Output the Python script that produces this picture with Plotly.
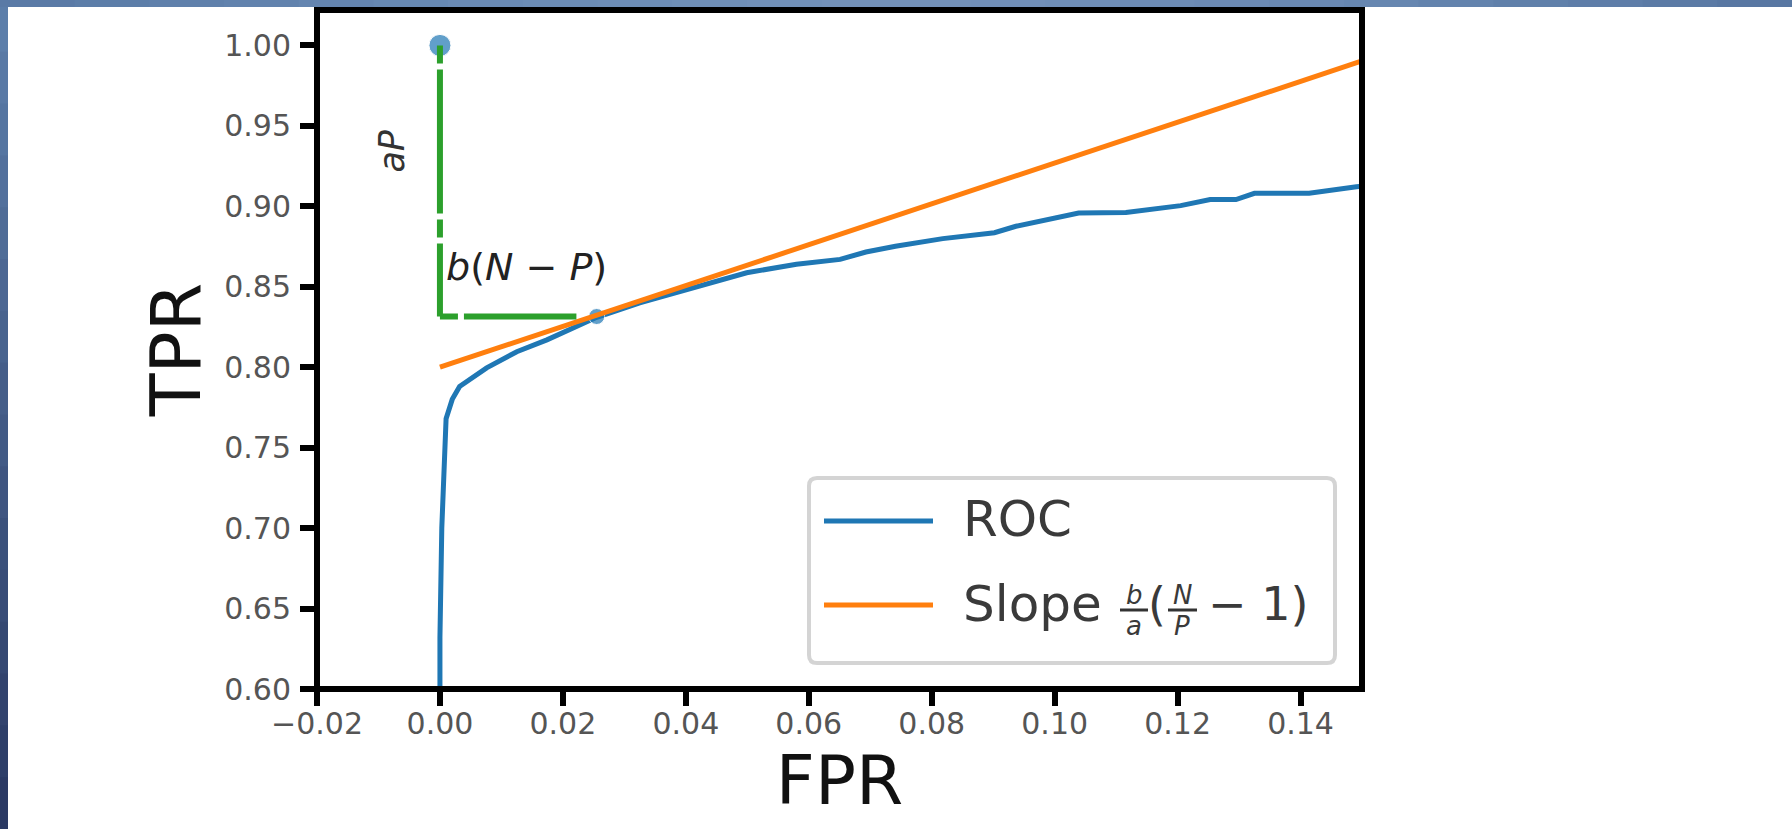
import plotly.graph_objects as go

# ---------------- data ----------------
roc_fpr = [0.0, 0.0, 0.0003, 0.0006, 0.0010, 0.0020, 0.0032, 0.0076, 0.0125, 0.0174,
           0.0218, 0.0255, 0.0325, 0.0390, 0.0445, 0.0499, 0.0580, 0.0651, 0.0693,
           0.0741, 0.0818, 0.0902, 0.0937, 0.0985, 0.1039, 0.1116, 0.1205, 0.1253,
           0.1295, 0.1325, 0.1414, 0.1491, 0.1550]
roc_tpr = [0.500, 0.632, 0.700, 0.735, 0.768, 0.780, 0.788, 0.7996, 0.8096, 0.817,
           0.825, 0.831, 0.840, 0.847, 0.8525, 0.8587, 0.864, 0.867, 0.8716,
           0.8752, 0.8799, 0.8836, 0.8876, 0.8917, 0.8958, 0.8962, 0.9004, 0.9042,
           0.9042, 0.9081, 0.9081, 0.9122, 0.9140]

slope_x = [0.0, 0.16]
slope_y = [0.800, 1.003]

point_x = [0.0, 0.0255]
point_y = [1.0, 0.8315]

vguide_x = [0.0, 0.0]
vguide_y = [1.0, 0.8315]
hguide_x = [0.0, 0.0222]
hguide_y = [0.8315, 0.8315]

x_ticks = [-0.02, 0.00, 0.02, 0.04, 0.06, 0.08, 0.10, 0.12, 0.14]
y_ticks = [0.60, 0.65, 0.70, 0.75, 0.80, 0.85, 0.90, 0.95, 1.00]

legend_names = ["ROC", "Slope"]

BLUE = "#1f77b4"
ORANGE = "#ff7f0e"
GREEN = "#2ca02c"
FONT = "DejaVu Sans"

W, H = 1792, 829
ML, MR, MT, MB = 317, 430, 10, 140
PW, PH = W - ML - MR, H - MT - MB


def px(xp):
    return (xp - ML) / PW


def py(yp):
    return (H - MB - yp) / PH


fig = go.Figure()
fig.add_trace(go.Scatter(x=roc_fpr, y=roc_tpr, mode="lines", name=legend_names[0],
                         line=dict(color=BLUE, width=5), showlegend=False))
fig.add_trace(go.Scatter(x=point_x, y=point_y, mode="markers", showlegend=False,
                         marker=dict(color=BLUE, size=[22, 16]), cliponaxis=False))
fig.add_trace(go.Scatter(x=slope_x, y=slope_y, mode="lines", name=legend_names[1],
                         line=dict(color=ORANGE, width=5), showlegend=False))
for gx, gy in ((vguide_x, vguide_y), (hguide_x, hguide_y)):
    fig.add_trace(go.Scatter(x=gx, y=gy, mode="lines", showlegend=False,
                             line=dict(color=GREEN, width=6, dash="18px,6px,144px,6px")))

shapes = []
# frame
shapes.append(dict(type="rect", xref="paper", yref="paper", x0=0, x1=1, y0=0, y1=1,
                   line=dict(color="black", width=6), layer="above"))


# gradient border of the screenshot (left and top strips)
def lerp(c1, c2, t):
    return "#%02x%02x%02x" % tuple(int(round(a + (b - a) * t)) for a, b in zip(c1, c2))


n = 16
for i in range(n):
    t = i / (n - 1)
    y0p = i * H / n
    y1p = (i + 1) * H / n + 2
    shapes.append(dict(type="rect", xref="paper", yref="paper", layer="above",
                       x0=px(0), x1=px(8), y0=py(y1p), y1=py(y0p),
                       fillcolor=lerp((92, 126, 170), (43, 58, 100), t), line=dict(width=0)))
top_cols = [(90, 122, 166), (104, 138, 180), (116, 146, 186), (104, 136, 178), (88, 119, 162)]
m = 24
for i in range(m):
    t = i / (m - 1) * (len(top_cols) - 1)
    k = min(int(t), len(top_cols) - 2)
    c = lerp(top_cols[k], top_cols[k + 1], t - k)
    shapes.append(dict(type="rect", xref="paper", yref="paper", layer="above",
                       x0=px(i * W / m), x1=px((i + 1) * W / m + 2), y0=py(7), y1=py(0),
                       fillcolor=c, line=dict(width=0)))

# ---- legend box (drawn by hand to match the matplotlib layout) ----
bx0, by0, bx1, by1, r = 809, 478, 1335, 663, 8
path = (f"M {px(bx0 + r)},{py(by0)} L {px(bx1 - r)},{py(by0)} "
        f"Q {px(bx1)},{py(by0)} {px(bx1)},{py(by0 + r)} L {px(bx1)},{py(by1 - r)} "
        f"Q {px(bx1)},{py(by1)} {px(bx1 - r)},{py(by1)} L {px(bx0 + r)},{py(by1)} "
        f"Q {px(bx0)},{py(by1)} {px(bx0)},{py(by1 - r)} L {px(bx0)},{py(by0 + r)} "
        f"Q {px(bx0)},{py(by0)} {px(bx0 + r)},{py(by0)} Z")
shapes.append(dict(type="path", xref="paper", yref="paper", path=path,
                   fillcolor="white", line=dict(color="#d4d4d4", width=4), layer="above"))
leg_rows = [(521, BLUE), (605, ORANGE)]
for yy, col in leg_rows:
    shapes.append(dict(type="line", xref="paper", yref="paper", layer="above",
                       x0=px(824), x1=px(933), y0=py(yy), y1=py(yy),
                       line=dict(color=col, width=5)))
# fraction bars
for fx0, fx1 in ((1120, 1148), (1168, 1197)):
    shapes.append(dict(type="line", xref="paper", yref="paper", layer="above",
                       x0=px(fx0), x1=px(fx1), y0=py(610), y1=py(610),
                       line=dict(color="#333", width=3)))

LC = "#3a3a3a"


def pann(x, y, text, size, xanchor="left", yanchor="middle", color=LC, angle=0):
    return dict(x=px(x), y=py(y), xref="paper", yref="paper", text=text, showarrow=False,
                xanchor=xanchor, yanchor=yanchor, textangle=angle,
                font=dict(family=FONT, size=size, color=color))


annotations = [
    dict(x=0.0006, y=0.8623, xref="x", yref="y", text="<i>b</i>(<i>N</i> − <i>P</i>)",
         showarrow=False, xanchor="left", yanchor="middle",
         font=dict(family=FONT, size=38, color="#222")),
    dict(x=-0.0078, y=0.9346, xref="x", yref="y", text="<i>aP</i>", textangle=-90,
         showarrow=False, xanchor="center", yanchor="middle",
         font=dict(family=FONT, size=35, color="#333")),
    pann(961, 519, legend_names[0], 50),
    pann(961, 604, legend_names[1], 50),
    pann(1134, 612, "<i>b</i>", 26, "center", "bottom"),
    pann(1134, 609, "<i>a</i>", 26, "center", "top"),
    pann(1157, 604, "(", 46, "center"),
    pann(1182, 612, "<i>N</i>", 26, "center", "bottom"),
    pann(1182, 609, "<i>P</i>", 26, "center", "top"),
    pann(1206, 604, "− 1)", 46),
]

fig.update_layout(
    width=W, height=H,
    margin=dict(l=ML, r=MR, t=MT, b=MB, pad=0),
    paper_bgcolor="white", plot_bgcolor="white",
    font=dict(family=FONT, color="#333"),
    shapes=shapes, annotations=annotations,
    showlegend=False,
)
fig.update_xaxes(range=[-0.02, 0.15], tickvals=x_ticks, tickformat=".2f",
                 showgrid=False, zeroline=False, showline=False, automargin=False,
                 ticks="outside", ticklen=16, tickwidth=6, tickcolor="black",
                 tickfont=dict(family=FONT, size=30, color="#555"),
                 ticklabelstandoff=-8,
                 title=dict(text="FPR", font=dict(family=FONT, size=68, color="#111"), standoff=11))
fig.update_yaxes(range=[0.60, 1.022], tickvals=y_ticks, tickformat=".2f",
                 showgrid=False, zeroline=False, showline=False, automargin=False,
                 ticks="outside", ticklen=16, tickwidth=6, tickcolor="black",
                 tickfont=dict(family=FONT, size=30, color="#555"),
                 ticklabelstandoff=3,
                 title=dict(text="TPR", font=dict(family=FONT, size=70, color="#111"), standoff=0))

fig.write_html("out.html", config={"displayModeBar": False},
               post_script="document.body.style.margin='0px';")
